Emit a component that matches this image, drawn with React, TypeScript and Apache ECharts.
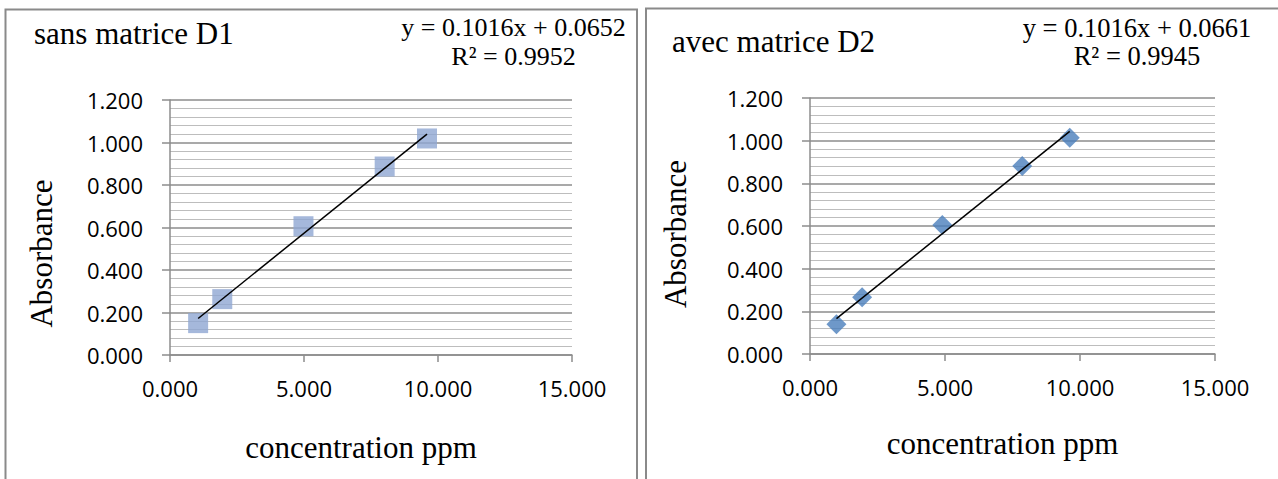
import React, { useEffect, useRef } from "react";
import * as echarts from "echarts";

const titles = ["sans matrice D1", "avec matrice D2"];
const equations = ["y = 0.1016x + 0.0652", "y = 0.1016x + 0.0661"];
const r2Labels = ["R² = 0.9952", "R² = 0.9945"];
const slopes = [0.1016, 0.1016];
const intercepts = [0.0652, 0.0661];

const xD1 = [1.05, 1.95, 4.98, 8.01, 9.59];
const yD1 = [0.15, 0.263, 0.606, 0.887, 1.019];
const xD2 = [0.98, 1.93, 4.9, 7.86, 9.62];
const yD2 = [0.139, 0.266, 0.605, 0.881, 1.014];

const xTicks = { min: 0, max: 15, interval: 5 };
const yTicks = { min: 0, max: 1.2, interval: 0.2 };
const xName = "concentration ppm";
const yName = "Absorbance";

const SERIF = "Liberation Serif";
const SANS = "Open Sans";

function trend(xs: number[], i: number) {
  const a = xs[0];
  const b = xs[xs.length - 1];
  return [
    [a, slopes[i] * a + intercepts[i]],
    [b, slopes[i] * b + intercepts[i]],
  ];
}

export default function App() {
  const ref = useRef<HTMLDivElement>(null);
  useEffect(() => {
    if (!ref.current) return;
    const chart = echarts.init(ref.current, null, { renderer: "svg" });
    const grids = [
      { left: 170, top: 100, width: 402, height: 255 },
      { left: 810, top: 98, width: 405, height: 256 },
    ];
    const axisGray = "#8c8c8c";
    const mkX = (gi: number, gap: number) => ({
      type: "value",
      gridIndex: gi,
      min: xTicks.min,
      max: xTicks.max,
      interval: xTicks.interval,
      name: xName,
      nameLocation: "middle",
      nameGap: gap,
      nameTextStyle: { fontFamily: SERIF, fontSize: 31, color: "#000", padding: [0, 20, 0, 0] },
      axisLine: { show: true, lineStyle: { color: axisGray, width: 1.5 } },
      axisTick: { show: true, inside: false, length: 7, lineStyle: { color: axisGray, width: 1.5 } },
      axisLabel: {
        margin: 22,
        fontFamily: SANS,
        fontSize: 22,
        color: "#000",
        formatter: (v: number) => v.toFixed(3),
      },
      splitLine: { show: false },
    });
    const mkY = (gi: number, gap: number, shift: number) => ({
      type: "value",
      gridIndex: gi,
      min: yTicks.min,
      max: yTicks.max,
      interval: yTicks.interval,
      name: yName,
      nameLocation: "middle",
      nameGap: gap,
      nameTextStyle: { fontFamily: SERIF, fontSize: 31, color: "#000", padding: [0, shift, 0, 0] },
      axisLine: { show: true, lineStyle: { color: axisGray, width: 1.5 } },
      axisTick: { show: true, inside: false, length: 8, lineStyle: { color: axisGray, width: 1.5 } },
      axisLabel: {
        margin: 27,
        fontFamily: SANS,
        fontSize: 22,
        color: "#000",
        formatter: (v: number) => v.toFixed(3),
      },
      splitLine: { show: true, lineStyle: { color: "#8c8c8c", width: 1.5 } },
      minorTick: { show: false, splitNumber: 5 },
      minorSplitLine: { show: true, lineStyle: { color: "#bdbdbd", width: 1.2 } },
    });
    const text = (x: number, y: number, t: string, size: number, align: string) => ({
      type: "text",
      x,
      y,
      style: {
        text: t,
        fontFamily: SERIF,
        fontSize: size,
        fill: "#000",
        align,
        verticalAlign: "middle",
      },
    });
    const option = {
      animation: false,
      backgroundColor: "#ffffff",
      grid: grids,
      xAxis: [mkX(0, 77), mkX(1, 74)],
      yAxis: [mkY(0, 113, 52), mkY(1, 119, 16)],
      series: [
        {
          type: "scatter",
          xAxisIndex: 0,
          yAxisIndex: 0,
          symbol: "rect",
          symbolSize: 20,
          itemStyle: { color: "#8ea6d2" },
          data: xD1.map((x, i) => [x, yD1[i]]),
          z: 2,
        },
        {
          type: "line",
          xAxisIndex: 0,
          yAxisIndex: 0,
          showSymbol: false,
          symbol: "none",
          lineStyle: { color: "#000", width: 1.5 },
          data: trend(xD1, 0),
          z: 3,
        },
        {
          type: "scatter",
          xAxisIndex: 1,
          yAxisIndex: 1,
          symbol: "diamond",
          symbolSize: 20,
          itemStyle: { color: "#4a7ebb" },
          data: xD2.map((x, i) => [x, yD2[i]]),
          z: 2,
        },
        {
          type: "line",
          xAxisIndex: 1,
          yAxisIndex: 1,
          showSymbol: false,
          symbol: "none",
          lineStyle: { color: "#000", width: 1.5 },
          data: trend(xD2, 1),
          z: 3,
        },
      ],
      graphic: [
        {
          type: "rect",
          shape: { x: 5.5, y: 9.5, width: 631.5, height: 490 },
          style: { fill: "none", stroke: "#8a8a8a", lineWidth: 2 },
        },
        {
          type: "rect",
          shape: { x: 646, y: 8.5, width: 660, height: 490 },
          style: { fill: "none", stroke: "#8a8a8a", lineWidth: 2 },
        },
        text(34, 44 - 0.3375 * 31, titles[0], 31, "left"),
        text(672, 52 - 0.3375 * 31, titles[1], 31, "left"),
        text(513.5, 36 - 0.3375 * 26, equations[0], 26, "center"),
        text(513.5, 65 - 0.3375 * 26, r2Labels[0], 26, "center"),
        text(1137, 37 - 0.3375 * 26.5, equations[1], 26.5, "center"),
        text(1137, 65 - 0.3375 * 26.5, r2Labels[1], 26.5, "center"),
      ],
    };
    chart.setOption(option as any);
    return () => chart.dispose();
  }, []);
  return (
    <div
      ref={ref}
      style={{ position: "fixed", left: 0, top: 0, width: 1278, height: 479, background: "#fff" }}
    />
  );
}
